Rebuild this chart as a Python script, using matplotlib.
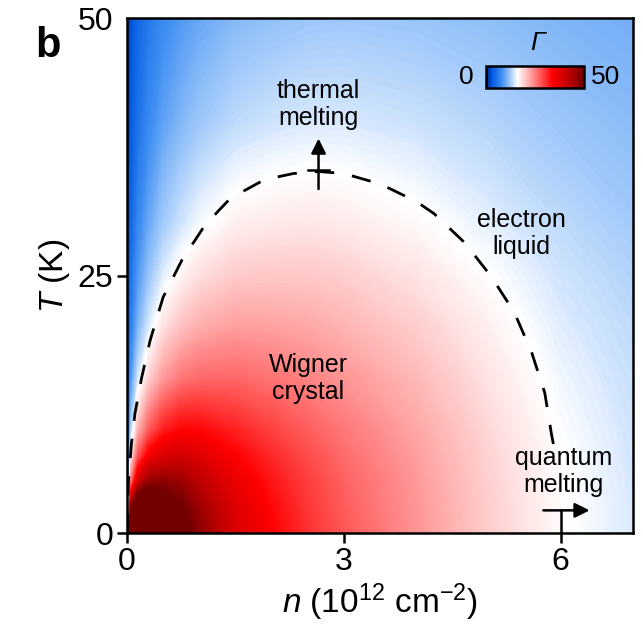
import numpy as np
import matplotlib
matplotlib.use("Agg")
import matplotlib.pyplot as plt
from matplotlib.colors import LinearSegmentedColormap, Normalize
from matplotlib.cm import ScalarMappable

plt.rcParams["font.family"] = ["Liberation Sans", "DejaVu Sans"]
plt.rcParams["mathtext.fontset"] = "custom"
plt.rcParams["mathtext.rm"] = "Liberation Sans"
plt.rcParams["mathtext.it"] = "Liberation Sans:italic"
plt.rcParams["mathtext.bf"] = "Liberation Sans:bold"

# Grid of the coupling parameter Gamma over density n (1e12 cm^-2) and temperature T (K)
density = [0, 0.05, 0.15, 0.3, 0.5, 0.75, 1.0, 1.5, 2.0, 2.5, 3.0, 4.0, 5.0, 6.0, 7.0]
temperature = [0, 1, 2.5, 5, 7.5, 10, 15, 20, 25, 30, 40, 50]
gamma = [
    [45, 60, 60, 60, 58.0, 53.0, 47.0, 38.5, 34.0, 30.5, 27.8, 23.5, 19.5, 16.3, 14.5],
    [0, 60, 60, 60, 57.0, 52.5, 46.7, 38.3, 33.9, 30.4, 27.7, 23.5, 19.5, 16.3, 14.5],
    [0, 47.3, 60, 60, 54.5, 50.8, 45.6, 37.8, 33.5, 30.1, 27.5, 23.4, 19.5, 16.3, 14.5],
    [0, 24.6, 39.8, 46.5, 47.0, 45.8, 42.5, 36.3, 32.5, 29.6, 27.1, 23.2, 19.3, 16.2, 14.4],
    [0, 16.5, 27.8, 35.0, 38.5, 39.5, 38.0, 34.1, 31.1, 28.6, 26.4, 22.8, 19.1, 16.1, 14.3],
    [0, 12.4, 21.2, 27.5, 31.8, 33.8, 33.6, 31.6, 29.4, 27.4, 25.5, 22.3, 18.8, 15.9, 14.2],
    [0, 8.3, 14.3, 19.2, 23.1, 25.6, 26.6, 26.8, 25.9, 24.8, 23.5, 21.0, 18.0, 15.4, 13.9],
    [0, 6.2, 10.8, 14.6, 18.1, 20.4, 21.8, 22.9, 22.7, 22.2, 21.4, 19.5, 17.1, 14.8, 13.5],
    [0, 5.0, 8.7, 11.8, 14.8, 16.8, 18.3, 19.7, 19.9, 19.9, 19.4, 18.0, 16.1, 14.2, 13.0],
    [0, 4.2, 7.2, 9.9, 12.4, 14.2, 15.6, 17.2, 17.6, 17.8, 17.5, 16.5, 15.0, 13.5, 12.4],
    [0, 3.1, 5.4, 7.4, 9.4, 10.9, 12.1, 13.5, 14.1, 14.5, 14.5, 14.0, 13.1, 12.1, 11.3],
    [0, 2.5, 4.3, 6.0, 7.6, 8.8, 9.8, 11.1, 11.7, 12.1, 12.2, 12.0, 11.5, 10.8, 10.3],
]

# Melting boundary of the Wigner crystal (dashed part)
boundary_n = [0.0, 0.02, 0.06, 0.11, 0.2, 0.32, 0.5, 0.76, 1.08, 1.43, 1.9, 2.3, 2.65,
              3.0, 3.5, 4.0, 4.25, 4.67, 5.04, 5.36, 5.6, 5.78, 5.87, 5.9]
boundary_T = [0.0, 5.0, 8.6, 11.6, 15.0, 18.7, 22.9, 26.5, 29.9, 32.5, 34.3, 34.9, 35.1,
              34.9, 33.9, 32.2, 31.0, 28.2, 24.9, 21.4, 17.5, 13.6, 9.7, 8.6]

x_ticks = [0, 3, 6]
y_ticks = [0, 25, 50]
gamma_range = [0, 50]

cmap = LinearSegmentedColormap.from_list(
    "gamma_map",
    [(0.00, (0.00, 0.12, 0.55)),
     (0.06, (0.00, 0.35, 0.88)),
     (0.16, (0.25, 0.56, 0.95)),
     (0.25, (0.65, 0.80, 0.98)),
     (0.32, (1.00, 1.00, 1.00)),
     (0.50, (1.00, 0.50, 0.50)),
     (0.68, (1.00, 0.00, 0.00)),
     (0.84, (0.75, 0.00, 0.00)),
     (1.00, (0.45, 0.00, 0.00))],
)

fig = plt.figure(figsize=(6.43, 6.24), dpi=100)
ax = fig.add_axes([0.1975, 0.1458, 0.7869, 0.8253])

levels = np.linspace(gamma_range[0], gamma_range[1], 501)
ax.contourf(density, temperature, gamma, levels=levels, cmap=cmap,
            extend="max", antialiased=False)

ax.plot(boundary_n, boundary_T, color="k", lw=2.0, linestyle=(0, (7, 6.5)))

# thermal melting marker
ax.annotate("", xy=(2.65, 38.3), xytext=(2.65, 33.4),
            arrowprops=dict(arrowstyle="-|>", mutation_scale=22, lw=1.8,
                            color="k", shrinkA=0, shrinkB=0))
ax.plot([2.51, 2.79], [35.2, 35.2], color="k", lw=1.8)

# quantum melting marker
ax.annotate("", xy=(6.4, 2.2), xytext=(5.76, 2.2),
            arrowprops=dict(arrowstyle="-|>", mutation_scale=22, lw=1.8,
                            color="k", shrinkA=0, shrinkB=0))
ax.plot([6.0, 6.0], [0, 2.2], color="k", lw=1.8)

txt = dict(ha="center", va="center", fontsize=18, linespacing=1.15)
ax.text(2.65, 41.6, "thermal\nmelting", **txt)
ax.text(5.46, 29.1, "electron\nliquid", **txt)
ax.text(2.51, 15.0, "Wigner\ncrystal", **txt)
ax.text(6.04, 6.0, "quantum\nmelting", **txt)

ax.set_xlim(0, 7)
ax.set_ylim(0, 50)
ax.set_xticks(x_ticks)
ax.set_yticks(y_ticks)
ax.tick_params(direction="out", length=7, width=1.8, labelsize=23, pad=3)
ax.yaxis.get_major_ticks()[2].tick1line.set_visible(False)
for s in ax.spines.values():
    s.set_linewidth(1.8)

ax.set_xlabel("$n$ (10$^{12}$ cm$^{-2}$)", fontsize=24, labelpad=3)
ax.set_ylabel("$T$ (K)", fontsize=24, labelpad=4)

# colour scale
cax = fig.add_axes([0.7558, 0.859, 0.1524, 0.0353])
sm = ScalarMappable(norm=Normalize(*gamma_range), cmap=cmap)
cb = fig.colorbar(sm, cax=cax, orientation="horizontal", ticks=[])
cb.outline.set_linewidth(1.8)
fig.text(0.7247, 0.8766, str(gamma_range[0]), ha="center", va="center", fontsize=19)
fig.text(0.9425, 0.8766, str(gamma_range[1]), ha="center", va="center", fontsize=19)
fig.text(0.8367, 0.931, "Γ", ha="center", va="center", fontsize=19, fontstyle="italic")

fig.text(0.055, 0.958, "b", ha="left", va="top", fontsize=30, fontweight="bold")

fig.savefig("out.png", dpi=100)
